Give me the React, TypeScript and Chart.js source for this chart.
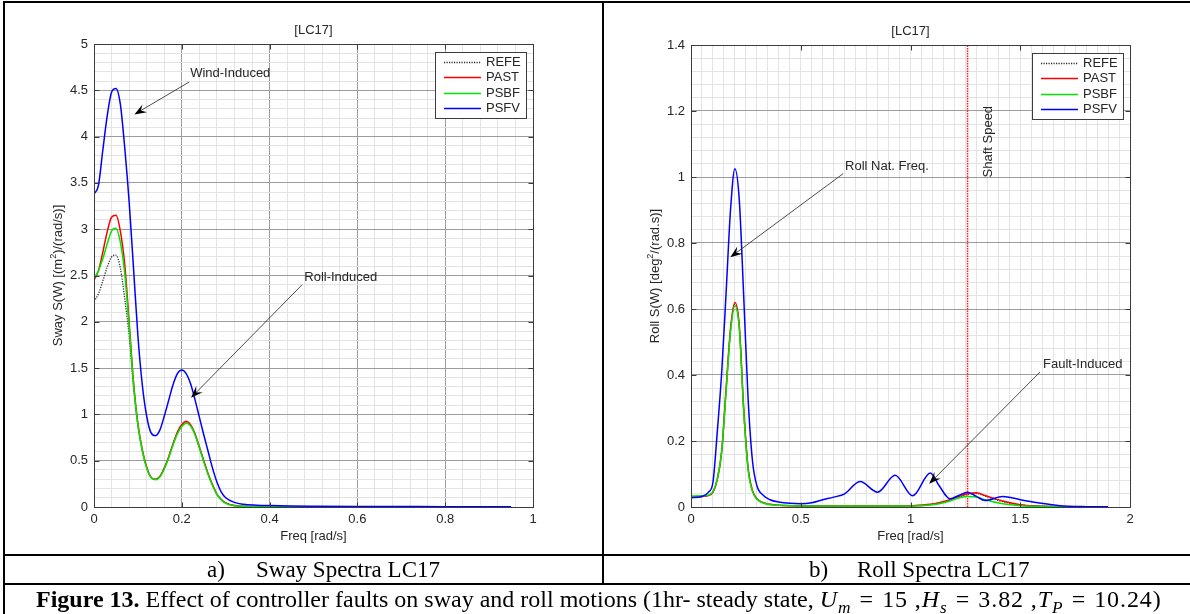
import React, { useEffect, useRef } from 'react';
import { Chart, registerables } from 'chart.js';
Chart.register(...registerables);

const FONT = '"Liberation Sans", Arial, sans-serif';
const SERIF = '"Liberation Serif", "Times New Roman", serif';
const TEXT = '#262626';
const MAJOR_GRID = '#9c9c9c';
const MINOR_GRID = '#e3e3e3';
const FRAME = '#3c3c3c';

const seriesLabels = ['REFE', 'PAST', 'PSBF', 'PSFV'];
const seriesColors = ['#2a2a2a', '#ff0000', '#00e600', '#0000ff'];

// ---------- Sway spectra (left) ----------
const swayFreq = [0, 0.01, 0.02, 0.03, 0.04, 0.05, 0.06, 0.07, 0.08, 0.09, 0.10, 0.11, 0.12, 0.13, 0.14, 0.15, 0.16, 0.17, 0.18, 0.19, 0.20, 0.21, 0.22, 0.23, 0.24, 0.25, 0.26, 0.27, 0.28, 0.29, 0.30, 0.32, 0.34, 0.37, 0.40, 0.45, 0.50, 0.60, 0.70, 0.80, 0.90, 0.95];
const swayREFE = [2.22, 2.30, 2.44, 2.59, 2.70, 2.72, 2.58, 2.25, 1.85, 1.30, 0.88, 0.61, 0.43, 0.32, 0.30, 0.33, 0.42, 0.54, 0.68, 0.80, 0.885, 0.915, 0.885, 0.785, 0.645, 0.495, 0.355, 0.235, 0.138, 0.078, 0.043, 0.014, 0.007, 0.004, 0.003, 0.002, 0.002, 0.002, 0.002, 0.002, 0.002, 0.002];
const swayPAST = [2.45, 2.55, 2.75, 2.97, 3.13, 3.15, 2.98, 2.62, 2.0, 1.35, 0.90, 0.62, 0.43, 0.32, 0.30, 0.33, 0.42, 0.54, 0.68, 0.81, 0.89, 0.925, 0.89, 0.79, 0.65, 0.50, 0.36, 0.24, 0.14, 0.08, 0.045, 0.015, 0.008, 0.004, 0.003, 0.002, 0.002, 0.002, 0.002, 0.002, 0.002, 0.002];
const swayPSBF = [2.47, 2.55, 2.68, 2.84, 2.98, 3.01, 2.86, 2.52, 1.95, 1.33, 0.89, 0.61, 0.42, 0.315, 0.295, 0.325, 0.41, 0.53, 0.67, 0.79, 0.87, 0.905, 0.875, 0.78, 0.64, 0.49, 0.35, 0.23, 0.135, 0.075, 0.04, 0.013, 0.007, 0.004, 0.003, 0.002, 0.002, 0.002, 0.002, 0.002, 0.002, 0.002];
const swayPSFV = [3.38, 3.47, 3.85, 4.22, 4.48, 4.52, 4.35, 3.88, 3.30, 2.58, 1.85, 1.32, 0.98, 0.80, 0.77, 0.83, 0.98, 1.15, 1.32, 1.44, 1.48, 1.44, 1.33, 1.16, 0.97, 0.78, 0.60, 0.42, 0.27, 0.16, 0.10, 0.05, 0.03, 0.02, 0.015, 0.01, 0.008, 0.006, 0.005, 0.004, 0.004, 0.004];
const swayXTicks = [0, 0.2, 0.4, 0.6, 0.8, 1];
const swayXTickLabels = ['0', '0.2', '0.4', '0.6', '0.8', '1'];
const swayYTicks = [0, 0.5, 1, 1.5, 2, 2.5, 3, 3.5, 4, 4.5, 5];
const swayYTickLabels = ['0', '0.5', '1', '1.5', '2', '2.5', '3', '3.5', '4', '4.5', '5'];

// ---------- Roll spectra (right) ----------
const rollFreq = [0, 0.05, 0.08, 0.10, 0.12, 0.14, 0.16, 0.18, 0.20, 0.22, 0.24, 0.26, 0.28, 0.30, 0.33, 0.36, 0.40, 0.45, 0.50, 0.55, 0.60, 0.65, 0.70, 0.77, 0.85, 0.93, 1.01, 1.09, 1.13, 1.18, 1.22, 1.26, 1.30, 1.34, 1.42, 1.50, 1.58, 1.68, 1.80, 1.90];
const rollREFE = [0.031, 0.033, 0.035, 0.045, 0.085, 0.17, 0.355, 0.535, 0.615, 0.545, 0.295, 0.118, 0.049, 0.025, 0.013, 0.008, 0.005, 0.004, 0.003, 0.003, 0.003, 0.003, 0.003, 0.003, 0.003, 0.003, 0.003, 0.007, 0.012, 0.020, 0.030, 0.038, 0.041, 0.033, 0.016, 0.006, 0.003, 0.001, 0.0005, 0.0003];
const rollPAST = [0.030, 0.032, 0.035, 0.045, 0.085, 0.17, 0.36, 0.54, 0.62, 0.55, 0.30, 0.12, 0.05, 0.025, 0.013, 0.008, 0.005, 0.004, 0.003, 0.003, 0.003, 0.003, 0.003, 0.003, 0.003, 0.003, 0.004, 0.008, 0.013, 0.022, 0.032, 0.040, 0.043, 0.035, 0.018, 0.007, 0.003, 0.001, 0.0005, 0.0003];
const rollPSBF = [0.033, 0.034, 0.036, 0.046, 0.085, 0.17, 0.35, 0.53, 0.61, 0.54, 0.29, 0.115, 0.048, 0.024, 0.012, 0.007, 0.005, 0.004, 0.003, 0.003, 0.003, 0.003, 0.003, 0.003, 0.003, 0.003, 0.003, 0.006, 0.010, 0.018, 0.027, 0.032, 0.030, 0.022, 0.010, 0.004, 0.002, 0.001, 0.0005, 0.0003];
const rollPSFV = [0.028, 0.032, 0.045, 0.075, 0.23, 0.41, 0.65, 0.90, 1.025, 0.93, 0.64, 0.33, 0.14, 0.065, 0.035, 0.022, 0.015, 0.011, 0.010, 0.013, 0.022, 0.030, 0.040, 0.077, 0.045, 0.096, 0.034, 0.103, 0.065, 0.025, 0.035, 0.045, 0.032, 0.020, 0.032, 0.022, 0.013, 0.004, 0.001, 0.0005];
const rollXTicks = [0, 0.5, 1, 1.5, 2];
const rollXTickLabels = ['0', '0.5', '1', '1.5', '2'];
const rollYTicks = [0, 0.2, 0.4, 0.6, 0.8, 1, 1.2, 1.4];
const rollYTickLabels = ['0', '0.2', '0.4', '0.6', '0.8', '1', '1.2', '1.4'];
const shaftSpeed = 1.26;

interface Note { text: string; tx: number; ty: number; ax: number; ay: number; hx: number; hy: number }
interface Panel {
  canvasW: number; canvasH: number;
  plotLeft: number; plotRight: number; plotTop: number; plotBottom: number;
  xMin: number; xMax: number; xMinor: number; xMajor: number[]; xMajorLabels: string[]; xMajorGrid: boolean;
  yMin: number; yMax: number; yMinor: number; yMajor: number[]; yMajorLabels: string[];
  x: number[]; series: number[][];
  title: string; xTitle: string; yTitle: [string, string, string];
  notes: Note[];
  vline?: number;
  vtext?: { text: string; x: number; y: number };
}

const swayPanel: Panel = {
  canvasW: 600, canvasH: 554, plotLeft: 94, plotRight: 533, plotTop: 44, plotBottom: 507,
  xMin: 0, xMax: 1, xMinor: 0.04, xMajor: swayXTicks, xMajorLabels: swayXTickLabels, xMajorGrid: true,
  yMin: 0, yMax: 5, yMinor: 0.1, yMajor: swayYTicks, yMajorLabels: swayYTickLabels,
  x: swayFreq, series: [swayREFE, swayPAST, swayPSBF, swayPSFV],
  title: '[LC17]', xTitle: 'Freq [rad/s]', yTitle: ['Sway S(W) [(m', '2', ')/(rad/s)]'],
  notes: [
    { text: 'Wind-Induced', tx: 0.219, ty: 4.68, ax: 0.217, ay: 4.59, hx: 0.092, hy: 4.24 },
    { text: 'Roll-Induced', tx: 0.479, ty: 2.48, ax: 0.474, ay: 2.40, hx: 0.221, hy: 1.18 },
  ],
};

const rollPanel: Panel = {
  canvasW: 590, canvasH: 554, plotLeft: 91, plotRight: 530, plotTop: 45, plotBottom: 507,
  xMin: 0, xMax: 2, xMinor: 0.05, xMajor: rollXTicks, xMajorLabels: rollXTickLabels, xMajorGrid: false,
  yMin: 0, yMax: 1.4, yMinor: 0.04, yMajor: rollYTicks, yMajorLabels: rollYTickLabels,
  x: rollFreq, series: [rollREFE, rollPAST, rollPSBF, rollPSFV],
  title: '[LC17]', xTitle: 'Freq [rad/s]', yTitle: ['Roll S(W) [deg', '2', '/(rad.s)]'],
  notes: [
    { text: 'Roll Nat. Freq.', tx: 0.702, ty: 1.031, ax: 0.693, ay: 1.01, hx: 0.179, hy: 0.757 },
    { text: 'Fault-Induced', tx: 1.604, ty: 0.433, ax: 1.59, ay: 0.409, hx: 1.085, hy: 0.0704 },
  ],
  vline: shaftSpeed,
  vtext: { text: 'Shaft Speed', x: 1.354, y: 1.107 },
};

const near = (v: number, list: number[]) => list.findIndex((m) => Math.abs(v - m) < 1e-6);

function drawArrow(ctx: CanvasRenderingContext2D, x0: number, y0: number, x1: number, y1: number) {
  const dx = x1 - x0, dy = y1 - y0;
  const len = Math.hypot(dx, dy);
  const ux = dx / len, uy = dy / len;
  const px = -uy, py = ux;
  const L = 12, W = 4.5;
  const nx = x1 - ux * L * 0.62, ny = y1 - uy * L * 0.62;
  ctx.beginPath();
  ctx.strokeStyle = '#3a3a3a';
  ctx.lineWidth = 0.9;
  ctx.moveTo(x0, y0);
  ctx.lineTo(nx, ny);
  ctx.stroke();
  ctx.beginPath();
  ctx.fillStyle = '#000';
  ctx.moveTo(x1, y1);
  ctx.lineTo(x1 - ux * L + px * W, y1 - uy * L + py * W);
  ctx.lineTo(nx, ny);
  ctx.lineTo(x1 - ux * L - px * W, y1 - uy * L - py * W);
  ctx.closePath();
  ctx.fill();
}

const panelPlugin = {
  id: 'panel',
  afterDraw(chart: any) {
    const p: Panel = chart.options.plugins.panel;
    if (!p || !p.title) return;
    const { ctx, chartArea: a, scales } = chart;
    const xs = scales.x, ys = scales.y;
    ctx.save();
    ctx.strokeStyle = FRAME;
    ctx.lineWidth = 1;
    ctx.setLineDash([]);
    const L = Math.round(a.left) + 0.5, T = Math.round(a.top) + 0.5;
    const R = Math.round(a.right) + 0.5, B = Math.round(a.bottom) + 0.5;
    ctx.strokeRect(L, T, R - L, B - T);
    ctx.beginPath();
    for (const v of p.xMajor) {
      const px = Math.round(xs.getPixelForValue(v)) + 0.5;
      ctx.moveTo(px, B); ctx.lineTo(px, B - 5);
      ctx.moveTo(px, T); ctx.lineTo(px, T + 5);
    }
    for (const v of p.yMajor) {
      const py = Math.round(ys.getPixelForValue(v)) + 0.5;
      ctx.moveTo(L, py); ctx.lineTo(L + 5, py);
      ctx.moveTo(R, py); ctx.lineTo(R - 5, py);
    }
    ctx.stroke();

    ctx.fillStyle = TEXT;
    ctx.font = `13px ${FONT}`;
    ctx.textAlign = 'center';
    ctx.textBaseline = 'middle';
    const cx = (a.left + a.right) / 2;
    ctx.fillText(p.title, cx, a.top - 14);
    ctx.fillText(p.xTitle, cx, a.bottom + 29);

    ctx.save();
    ctx.translate(a.left - 35.5, (a.top + a.bottom) / 2);
    ctx.rotate(-Math.PI / 2);
    const [pre, sup, post] = p.yTitle;
    ctx.font = `13px ${FONT}`;
    const w1 = ctx.measureText(pre).width;
    const w3 = ctx.measureText(post).width;
    ctx.font = `9px ${FONT}`;
    const w2 = ctx.measureText(sup).width;
    const x0 = -(w1 + w2 + w3) / 2;
    ctx.textAlign = 'left';
    ctx.font = `13px ${FONT}`;
    ctx.fillText(pre, x0, 0);
    ctx.font = `9px ${FONT}`;
    ctx.fillText(sup, x0 + w1, -4.5);
    ctx.font = `13px ${FONT}`;
    ctx.fillText(post, x0 + w1 + w2, 0);
    ctx.restore();

    ctx.font = `13px ${FONT}`;
    for (const n of p.notes) {
      ctx.fillStyle = TEXT;
      ctx.textAlign = 'left';
      ctx.textBaseline = 'middle';
      ctx.fillText(n.text, xs.getPixelForValue(n.tx), ys.getPixelForValue(n.ty));
      drawArrow(ctx, xs.getPixelForValue(n.ax), ys.getPixelForValue(n.ay), xs.getPixelForValue(n.hx), ys.getPixelForValue(n.hy));
    }
    if (p.vtext) {
      ctx.save();
      ctx.translate(xs.getPixelForValue(p.vtext.x), ys.getPixelForValue(p.vtext.y));
      ctx.rotate(-Math.PI / 2);
      ctx.fillStyle = TEXT;
      ctx.textAlign = 'center';
      ctx.textBaseline = 'middle';
      ctx.fillText(p.vtext.text, 0, 0);
      ctx.restore();
    }

    const bw = 91, bh = 66;
    const bx = Math.round(a.right - 7 - bw), by = Math.round(a.top + 8);
    ctx.fillStyle = '#fff';
    ctx.fillRect(bx, by, bw, bh);
    ctx.strokeStyle = FRAME;
    ctx.lineWidth = 1;
    ctx.strokeRect(bx + 0.5, by + 0.5, bw, bh);
    ctx.font = `13px ${FONT}`;
    ctx.textAlign = 'left';
    ctx.textBaseline = 'middle';
    chart.data.datasets.slice(0, seriesLabels.length).forEach((ds: any, i: number) => {
      const ly = Math.round(by + 9.5 + i * 15.6) + 0.5;
      ctx.beginPath();
      ctx.strokeStyle = ds.borderColor;
      ctx.lineWidth = ds.borderWidth;
      ctx.setLineDash(ds.borderDash || []);
      ctx.moveTo(bx + 9, ly);
      ctx.lineTo(bx + 46, ly);
      ctx.stroke();
      ctx.setLineDash([]);
      ctx.fillStyle = TEXT;
      ctx.fillText(ds.label, bx + 51, ly);
    });
    ctx.restore();
  },
};

function buildChart(canvas: HTMLCanvasElement, p: Panel) {
  const datasets: any[] = seriesLabels.map((label, i) => ({
    label,
    data: p.x.map((x, j) => ({ x, y: p.series[i][j] })),
    borderColor: seriesColors[i],
    borderWidth: i === 0 ? 1.3 : 1.5,
    borderDash: i === 0 ? [1.2, 1.3] : [],
    pointRadius: 0,
    cubicInterpolationMode: 'monotone',
    fill: false,
    order: seriesLabels.length - i,
  }));
  if (p.vline !== undefined) {
    datasets.push({
      label: 'Shaft Speed',
      data: [{ x: p.vline, y: p.yMin }, { x: p.vline, y: p.yMax }],
      borderColor: '#ff1a1a',
      borderWidth: 1.5,
      borderDash: [1.5, 1],
      pointRadius: 0,
      fill: false,
      order: 10,
    });
  }
  const tickFont = { family: FONT, size: 13 };
  return new Chart(canvas, {
    type: 'line',
    data: { datasets },
    plugins: [panelPlugin],
    options: {
      animation: false,
      responsive: false,
      devicePixelRatio: 1,
      events: [],
      layout: {
        padding: {
          left: 0,
          top: p.plotTop,
          right: p.canvasW - p.plotRight,
          bottom: p.canvasH - p.plotBottom - 40,
        },
      },
      plugins: {
        legend: { display: false },
        title: { display: false },
        tooltip: { enabled: false },
        panel: p,
      } as any,
      scales: {
        x: {
          type: 'linear',
          min: p.xMin,
          max: p.xMax,
          afterFit: (s: any) => { s.height = 40; },
          ticks: {
            stepSize: p.xMinor,
            autoSkip: false,
            maxRotation: 0,
            minRotation: 0,
            padding: 5,
            color: TEXT,
            font: tickFont,
            callback: (v: any) => { const k = near(Number(v), p.xMajor); return k >= 0 ? p.xMajorLabels[k] : ''; },
          },
          grid: {
            drawTicks: false,
            lineWidth: 1,
            color: (c: any) => (p.xMajorGrid && c.tick && near(c.tick.value, p.xMajor) >= 0 ? MAJOR_GRID : MINOR_GRID),
          },
          border: { display: false },
        },
        y: {
          type: 'linear',
          min: p.yMin,
          max: p.yMax,
          afterFit: (s: any) => { s.width = p.plotLeft; },
          ticks: {
            stepSize: p.yMinor,
            autoSkip: false,
            padding: 6,
            color: TEXT,
            font: tickFont,
            callback: (v: any) => { const k = near(Number(v), p.yMajor); return k >= 0 ? p.yMajorLabels[k] : ''; },
          },
          grid: {
            drawTicks: false,
            lineWidth: 1,
            color: (c: any) => (c.tick && near(c.tick.value, p.yMajor) >= 0 ? MAJOR_GRID : MINOR_GRID),
          },
          border: { display: false },
        },
      },
    } as any,
  });
}

const line = (left: number, top: number, width: number, height: number) => (
  <div style={{ position: 'absolute', left, top, width, height, background: '#000' }} />
);

const sub: React.CSSProperties = { fontSize: '0.72em', position: 'relative', top: '0.32em', fontStyle: 'italic' };
const eq: React.CSSProperties = { margin: '0 0.34em' };
const math: React.CSSProperties = { letterSpacing: '0.9px' };

export default function App() {
  const leftRef = useRef<HTMLCanvasElement>(null);
  const rightRef = useRef<HTMLCanvasElement>(null);
  useEffect(() => {
    const c1 = buildChart(leftRef.current as HTMLCanvasElement, swayPanel);
    const c2 = buildChart(rightRef.current as HTMLCanvasElement, rollPanel);
    return () => { c1.destroy(); c2.destroy(); };
  }, []);
  const capStyle: React.CSSProperties = {
    position: 'absolute', top: 556, height: 28, lineHeight: '28px', fontFamily: SERIF, fontSize: 23, color: '#000', whiteSpace: 'nowrap',
  };
  return (
    <div style={{ position: 'absolute', left: 0, top: 0, width: 1190, height: 614, background: '#fff', overflow: 'hidden' }}>
      <canvas ref={leftRef} width={600} height={554} style={{ position: 'absolute', left: 0, top: 0, width: 600, height: 554 }} />
      <canvas ref={rightRef} width={590} height={554} style={{ position: 'absolute', left: 600, top: 0, width: 590, height: 554 }} />
      {line(3, 1, 1187, 2)}
      {line(3, 1, 2, 613)}
      {line(602, 1, 2, 584)}
      {line(3, 554, 1187, 2)}
      {line(3, 583, 1187, 2)}
      <div style={{ ...capStyle, left: 207 }}>a)</div>
      <div style={{ ...capStyle, left: 256 }}>Sway Spectra LC17</div>
      <div style={{ ...capStyle, left: 809 }}>b)</div>
      <div style={{ ...capStyle, left: 857 }}>Roll Spectra LC17</div>
      <div style={{ position: 'absolute', left: 36, top: 584, height: 30, lineHeight: '30px', fontFamily: SERIF, fontSize: 24, color: '#000', whiteSpace: 'nowrap' }}>
        <b>Figure 13.</b> Effect of controller faults on sway and roll motions (1hr- steady state,{' '}
        <span style={math}>
          <i>U</i><span style={sub}>m</span><span style={eq}>=</span>15 ,<i>H</i><span style={sub}>s</span><span style={eq}>=</span>3.82 ,<i>T</i><span style={sub}>P</span><span style={eq}>=</span>10.24)
        </span>
      </div>
    </div>
  );
}
